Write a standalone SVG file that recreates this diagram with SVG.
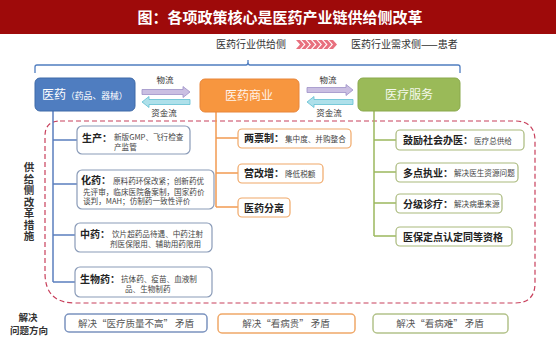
<svg xmlns="http://www.w3.org/2000/svg" width="556" height="346" viewBox="0 0 556 346">
<style>
text{font-family:"Noto Sans CJK SC","Noto Sans",sans-serif;}
.lbl{font-size:10px;font-weight:bold;fill:#222;}
.sm{font-size:7.6px;fill:#444;}
.bl{fill:#fff;stroke:#8a9bb8;stroke-width:1.2;}
.ob{fill:#fff;stroke:#f0a868;stroke-width:1.2;}
.gb{fill:#fff;stroke:#a9b97c;stroke-width:1.2;}
.bot{font-size:9.5px;fill:#555;text-anchor:middle;}
</style>
<rect x="0" y="0" width="556" height="346" fill="#fff"/>
<g id="title">
<rect x="0" y="0" width="556" height="34" fill="#9e0a0a"/>
<text x="280" y="23" font-size="15" font-weight="bold" fill="#fff" text-anchor="middle">图：各项政策核心是医药产业链供给侧改革</text>
</g>
<g id="header">
<text x="216" y="48" font-size="10" fill="#333">医药行业供给侧</text>
<g fill="#e8707e">
<polygon points="296,40 300,40 304,44.5 300,49 296,49 300,44.5"/>
<polygon points="301.5,40 305.5,40 309.5,44.5 305.5,49 301.5,49 305.5,44.5"/>
<polygon points="307,40 311,40 315,44.5 311,49 307,49 311,44.5"/>
<polygon points="312.5,40 316.5,40 320.5,44.5 316.5,49 312.5,49 316.5,44.5"/>
<polygon points="318,40 322,40 326,44.5 322,49 318,49 322,44.5"/>
<polygon points="323.5,40 327.5,40 331.5,44.5 327.5,49 323.5,49 327.5,44.5"/>
<polygon points="329,40 333,40 337,44.5 333,49 329,49 333,44.5"/>
</g>
<text x="351" y="48" font-size="10" fill="#333">医药行业需求侧——患者</text>
</g>
<g id="connectors" fill="none">
<path d="M35 73 V67 Q35 65 37 65 H246 Q248 65 248 62 V60 M248 62 Q248 65 250 65 H458 Q460 65 460 67 V73" stroke="#4f7dc0" stroke-width="1.3"/>
<path d="M60 121 H515 Q535 121 535 141 V283 Q535 303 515 303 H75 Q45 303 45 273 V136 Q45 121 60 121 Z" stroke="#c8405c" stroke-width="1.2" stroke-dasharray="5,3"/>
<path d="M53 111 V282 M53 140 H77 M53 184 H77 M53 235 H75 M53 282 H75" stroke="#5b7fbf" stroke-width="1.5"/>
<path d="M216 112 V207 M216 138 H238 M216 173 H238 M216 207 H238" stroke="#f29a52" stroke-width="1.5"/>
<path d="M374 111 V236 M374 140 H396 M374 172 H396 M374 203 H396 M374 236 H396" stroke="#9cb85e" stroke-width="1.5"/>
<polygon points="142,89.5 183,89.5 183,86.5 190,92 183,97.5 183,94.5 142,94.5" fill="#cabfe2" stroke="#9d90c8" stroke-width="0.8"/>
<polygon points="190,99.5 149,99.5 149,96.5 142,102 149,107.5 149,104.5 190,104.5" fill="#aee0ea" stroke="#5fbfd2" stroke-width="0.8"/>
<polygon points="307,87.5 346,87.5 346,84.5 353,90 346,95.5 346,92.5 307,92.5" fill="#cabfe2" stroke="#9d90c8" stroke-width="0.8"/>
<polygon points="353,99.5 314,99.5 314,96.5 307,102 314,107.5 314,104.5 353,104.5" fill="#aee0ea" stroke="#5fbfd2" stroke-width="0.8"/>
<text x="165" y="83" font-size="8.5" fill="#333" text-anchor="middle">物流</text>
<text x="164" y="116" font-size="8.5" fill="#333" text-anchor="middle">资金流</text>
<text x="328" y="83" font-size="8.5" fill="#333" text-anchor="middle">物流</text>
<text x="329" y="116" font-size="8.5" fill="#333" text-anchor="middle">资金流</text>
</g>
<g id="node-pharma">
<rect x="35" y="78" width="100" height="33" rx="5" fill="#4f7dc0" stroke="#3f6aa8" stroke-width="1"/>
<text x="42" y="99" fill="#fff"><tspan font-size="12">医药</tspan><tspan font-size="8.8">（药品、器械）</tspan></text>
</g>
<g id="node-commerce">
<rect x="200" y="79" width="99" height="33" rx="5" fill="#f7963f" stroke="#e8863a" stroke-width="1"/>
<text x="249" y="100" font-size="12" fill="#fff3ea" text-anchor="middle">医药商业</text>
</g>
<g id="node-service">
<rect x="358" y="78" width="102" height="33" rx="5" fill="#9aba58" stroke="#8aa94c" stroke-width="1"/>
<text x="409" y="99" font-size="12" fill="#f4f8ea" text-anchor="middle">医疗服务</text>
</g>
<g id="side-label">
<text x="29" y="162" font-size="10.5" font-weight="bold" fill="#333" letter-spacing="1" style="writing-mode:vertical-rl">供给侧改革措施</text>
</g>
<g id="node-production">
<rect class="bl" x="77" y="126" width="113" height="28" rx="5"/>
<text class="lbl" x="82" y="142">生产：</text>
<text class="sm" x="114" y="140">新版GMP、飞行检查</text>
<text class="sm" x="114" y="149.5">产监管</text>
</g>
<g id="node-chem">
<rect class="bl" x="77" y="170" width="137" height="39" rx="5"/>
<text class="lbl" x="81" y="184">化药：</text>
<text class="sm" x="113" y="183.5">原料药环保改紧；创新药优</text>
<text class="sm" x="83" y="194.5">先评审，临床医院备案制，国家药价</text>
<text class="sm" x="83" y="204">谈判，MAH；仿制药一致性评价</text>
</g>
<g id="node-tcm">
<rect class="bl" x="75" y="223" width="137" height="29" rx="5"/>
<text class="lbl" x="80" y="238">中药：</text>
<text class="sm" x="112" y="237">饮片超药品待遇、中药注射</text>
<text class="sm" x="110" y="247">剂医保限用、辅助用药限用</text>
</g>
<g id="node-bio">
<rect class="bl" x="75" y="267" width="137" height="30" rx="5"/>
<text class="lbl" x="80" y="283">生物药：</text>
<text class="sm" x="121" y="282">抗体药、疫苗、血液制</text>
<text class="sm" x="125" y="291.5">品、生物制药</text>
</g>
<g id="node-twoticket">
<rect class="ob" x="238" y="129" width="113" height="19" rx="4"/>
<text class="lbl" x="244" y="142">两票制：</text>
<text class="sm" x="285" y="141.5">集中度、并购整合</text>
</g>
<g id="node-vat">
<rect class="ob" x="238" y="164" width="85" height="19" rx="4"/>
<text class="lbl" x="244" y="177">营改增：</text>
<text class="sm" x="285" y="176.5">降低税额</text>
</g>
<g id="node-separation">
<rect class="ob" x="238" y="198" width="52" height="19" rx="4"/>
<text class="lbl" x="244" y="211.5">医药分离</text>
</g>
<g id="node-private">
<rect class="gb" x="396" y="130" width="128" height="20" rx="4"/>
<text class="lbl" x="403" y="144">鼓励社会办医：</text>
<text class="sm" x="474" y="143.5">医疗总供给</text>
</g>
<g id="node-multisite">
<rect class="gb" x="396" y="163" width="122" height="19" rx="4"/>
<text class="lbl" x="403" y="176.5">多点执业：</text>
<text class="sm" x="454" y="176">解决医生资源问题</text>
</g>
<g id="node-tiered">
<rect class="gb" x="396" y="194" width="106" height="19" rx="4"/>
<text class="lbl" x="403" y="207.5">分级诊疗：</text>
<text class="sm" x="454" y="207">解决病患来源</text>
</g>
<g id="node-insurance">
<rect class="gb" x="396" y="227" width="116" height="19" rx="4"/>
<text class="lbl" x="403" y="240.5" font-size="10.5">医保定点认定同等资格</text>
</g>
<g id="bottom-label">
<text font-size="9.5" font-weight="bold" fill="#333" text-anchor="middle"><tspan x="28" y="321">解决</tspan><tspan x="29" y="334">问题方向</tspan></text>
</g>
<g id="node-quality">
<rect x="65" y="314" width="142" height="18" rx="4" fill="#fff" stroke="#7b93bf" stroke-width="1.5"/>
<text class="bot" x="136" y="326.5">解决“医疗质量不高” 矛盾</text>
</g>
<g id="node-expensive">
<rect x="218" y="314" width="137" height="19" rx="4" fill="#fff" stroke="#f0a868" stroke-width="1.5"/>
<text class="bot" x="286" y="327">解决“看病贵” 矛盾</text>
</g>
<g id="node-difficult">
<rect x="373" y="314" width="135" height="19" rx="4" fill="#fff" stroke="#b3c28a" stroke-width="1.5"/>
<text class="bot" x="440" y="327">解决“看病难” 矛盾</text>
</g>
</svg>
